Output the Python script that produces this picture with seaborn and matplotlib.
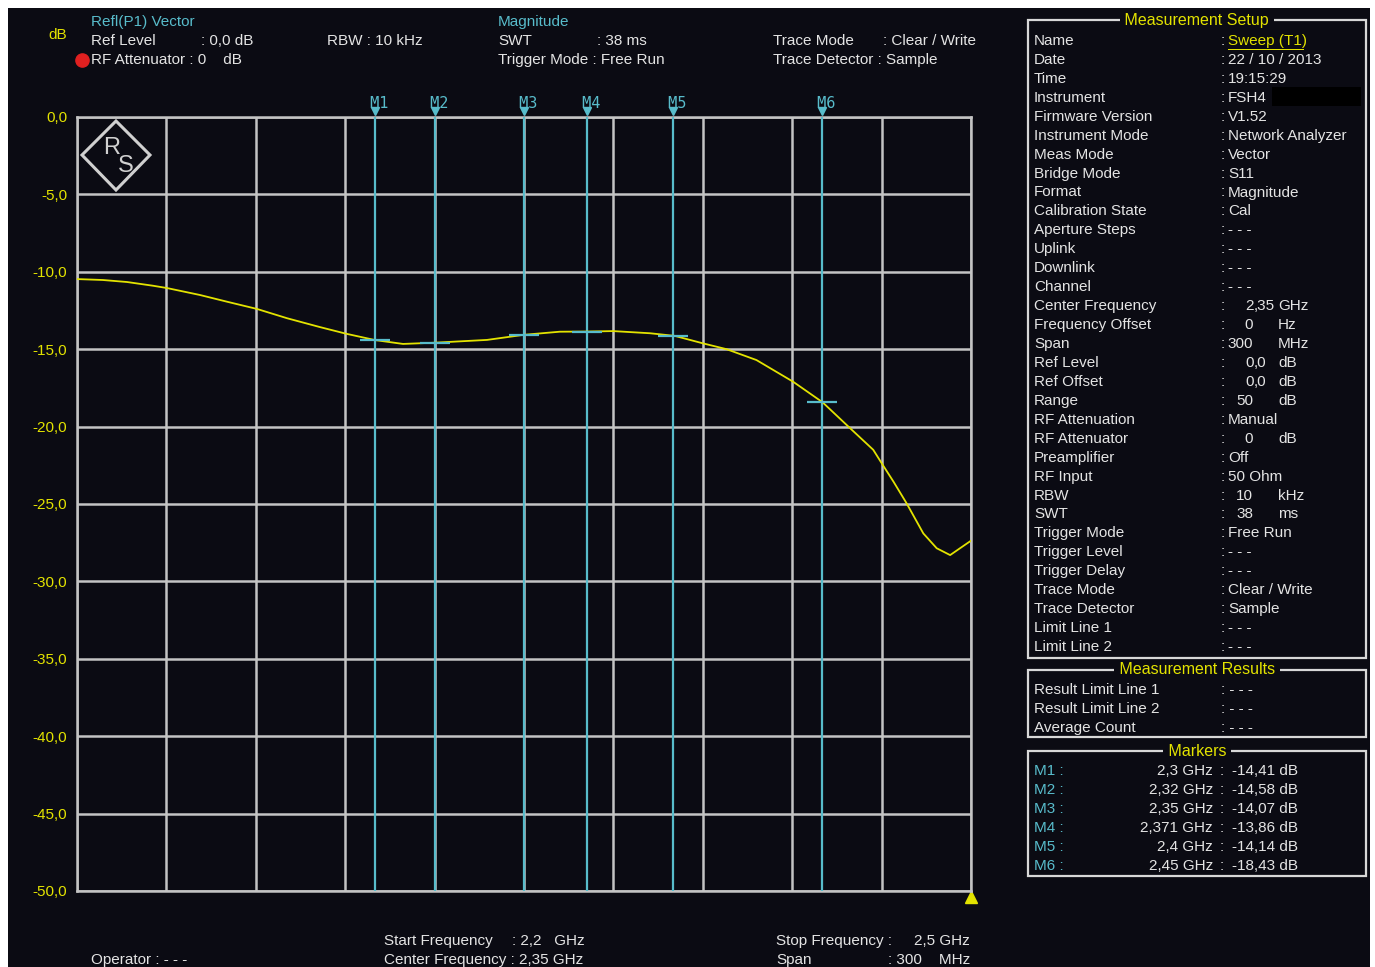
import numpy as np
import pandas as pd
import matplotlib
matplotlib.use("Agg")
import matplotlib.pyplot as plt
from matplotlib.patches import Rectangle, Polygon
from matplotlib.lines import Line2D
import seaborn as sns

# ---------------- data ----------------
freq_ghz = [2.2000, 2.2087, 2.2168, 2.2255, 2.2302, 2.2413, 2.2503, 2.2604, 2.2705, 2.2815,
            2.2903, 2.3000, 2.3094, 2.3200, 2.3376, 2.3500, 2.3620, 2.3711, 2.3799, 2.3923,
            2.4006, 2.4100, 2.4180, 2.4280, 2.4403, 2.4502, 2.4583, 2.4672, 2.4704, 2.4740,
            2.4784, 2.4840, 2.4885, 2.4930, 2.4963, 2.5000]
mag_db = [-10.47, -10.53, -10.66, -10.90, -11.05, -11.50, -11.93, -12.40, -13.00, -13.57,
          -14.00, -14.41, -14.66, -14.58, -14.40, -14.07, -13.87, -13.86, -13.83, -13.97,
          -14.14, -14.62, -15.00, -15.70, -17.10, -18.43, -19.90, -21.50, -22.48, -23.56,
          -24.96, -26.90, -27.86, -28.30, -27.86, -27.37]

marker_names = ["M1", "M2", "M3", "M4", "M5", "M6"]
marker_freq = [2.30, 2.32, 2.35, 2.371, 2.40, 2.45]
marker_db = [-14.41, -14.58, -14.07, -13.86, -14.14, -18.43]
marker_freq_lbl = ["2,3 GHz", "2,32 GHz", "2,35 GHz", "2,371 GHz", "2,4 GHz", "2,45 GHz"]
marker_db_lbl = ["-14,41 dB", "-14,58 dB", "-14,07 dB", "-13,86 dB", "-14,14 dB", "-18,43 dB"]

y_ticks = [0, -5, -10, -15, -20, -25, -30, -35, -40, -45, -50]
y_tick_labels = ["0,0", "-5,0", "-10,0", "-15,0", "-20,0", "-25,0", "-30,0",
                 "-35,0", "-40,0", "-45,0", "-50,0"]

setup_keys = ["Name", "Date", "Time", "Instrument", "Firmware Version", "Instrument Mode",
              "Meas Mode", "Bridge Mode", "Format", "Calibration State", "Aperture Steps",
              "Uplink", "Downlink", "Channel", "Center Frequency", "Frequency Offset",
              "Span", "Ref Level", "Ref Offset", "Range", "RF Attenuation", "RF Attenuator",
              "Preamplifier", "RF Input", "RBW", "SWT", "Trigger Mode", "Trigger Level",
              "Trigger Delay", "Trace Mode", "Trace Detector", "Limit Line 1", "Limit Line 2"]
setup_vals = ["Sweep (T1)", "22 / 10 / 2013", "19:15:29", "FSH4", "V1.52", "Network Analyzer",
              "Vector", "S11", "Magnitude", "Cal", "- - -", "- - -", "- - -", "- - -",
              ("2,35", "GHz"), ("0", "Hz"), ("300", "MHz"), ("0,0", "dB"), ("0,0", "dB"),
              ("50", "dB"), "Manual", ("0", "dB"), "Off", "50 Ohm", ("10", "kHz"),
              ("38", "ms"), "Free Run", "- - -", "- - -", "Clear / Write", "Sample",
              "- - -", "- - -"]
result_keys = ["Result Limit Line 1", "Result Limit Line 2", "Average Count"]
result_vals = ["- - -", "- - -", "- - -"]

# ---------------- style ----------------
W, H = 1375, 967
BG = "#0b0b13"
WHITE = "#e4e4e4"
CYAN = "#58bccb"
YEL = "#e3e300"
GRID = "#c4c4c4"

sns.set_style("dark", {"axes.facecolor": BG})
plt.rcParams["font.family"] = ["Liberation Sans", "DejaVu Sans"]

fig = plt.figure(figsize=(W / 100, H / 100), dpi=100, facecolor="white")


def fx(x):
    return x / W


def fy(y):
    return 1 - y / H


fig.add_artist(Rectangle((fx(8), 0), fx(1362), 1 - 8 / H, transform=fig.transFigure,
                         facecolor=BG, edgecolor="none", zorder=0))


def txt(x, y, s, color=WHITE, size=11, ha="left", **kw):
    fig.text(fx(x), fy(y + 1), s, color=color, fontsize=size, ha=ha, va="center", **kw)


# ---------------- main plot ----------------
ax = fig.add_axes([fx(77), fy(891), fx(971) - fx(77), fy(117) - fy(891)])
ax.set_facecolor(BG)
df = pd.DataFrame({"freq": freq_ghz, "mag": mag_db})
sns.lineplot(data=df, x="freq", y="mag", ax=ax, color=YEL, linewidth=1.3, zorder=5)
ax.set_xlim(2.2, 2.5)
ax.set_ylim(-50, 0)
ax.set_xticks(np.linspace(2.2, 2.5, 11))
ax.set_xticklabels([])
ax.set_yticks(y_ticks)
ax.set_yticklabels(y_tick_labels)
ax.tick_params(axis="y", colors=YEL, labelsize=11, length=0, pad=7)
ax.tick_params(axis="x", length=0)
ax.grid(True, color=GRID, linewidth=1.8)
for s in ax.spines.values():
    s.set_color(GRID)
    s.set_linewidth(1.8)
ax.set_xlabel("")
ax.set_ylabel("")

for name, f, d in zip(marker_names, marker_freq, marker_db):
    ax.axvline(f, color=CYAN, linewidth=1.6, zorder=3)
    ax.plot([f], [d], marker="_", markersize=21, markeredgewidth=1.6, color=CYAN, zorder=6)
    ax.plot([f], [1.008], marker="v", markersize=6, color=CYAN, clip_on=False,
            transform=ax.get_xaxis_transform(), zorder=6)
    ax.text(f, 1.018, " " + name, color=CYAN, fontsize=11, ha="center", va="center",
            family="DejaVu Sans Mono", transform=ax.get_xaxis_transform())

ax.plot([1.0], [-0.008], marker="^", markersize=9, color=YEL, clip_on=False,
        transform=ax.transAxes)

# R&S logo (decoration)
logo = Polygon([(fx(116), fy(121)), (fx(150), fy(155)), (fx(116), fy(190)), (fx(82), fy(155))],
               closed=True, fill=False, edgecolor="#d0d0d0", linewidth=2.2,
               transform=fig.transFigure)
fig.add_artist(logo)
txt(103, 147, "R", color="#d0d0d0", size=17)
txt(118, 165, "S", color="#d0d0d0", size=17)

# ---------------- header ----------------
txt(48, 34, "dB", color=YEL)
txt(91, 21, "Refl(P1) Vector", color=CYAN)
txt(91, 40, "Ref Level")
txt(201, 40, ": 0,0 dB")
fig.add_artist(Line2D([fx(82)], [fy(60)], marker="o", markersize=9.5, color="#e02020",
                      linestyle="none", transform=fig.transFigure))
txt(91, 59, "RF Attenuator : 0    dB")
txt(327, 40, "RBW : 10 kHz")
txt(498, 21, "Magnitude", color=CYAN)
txt(498, 40, "SWT")
txt(597, 40, ": 38 ms")
txt(498, 59, "Trigger Mode : Free Run")
txt(773, 40, "Trace Mode")
txt(883, 40, ": Clear / Write")
txt(773, 59, "Trace Detector : Sample")

# ---------------- footer ----------------
txt(91, 959, "Operator : - - -")
txt(384, 940, "Start Frequency")
txt(512, 940, ": 2,2   GHz")
txt(384, 959, "Center Frequency : 2,35 GHz")
txt(776, 940, "Stop Frequency :")
txt(970, 940, "2,5 GHz", ha="right")
txt(776, 959, "Span")
txt(970, 959, ": 300    MHz", ha="right")


# ---------------- right panel ----------------
def box(top, bottom, title):
    fig.add_artist(Rectangle((fx(1028), fy(bottom)), fx(1366) - fx(1028), fy(top) - fy(bottom),
                             transform=fig.transFigure, fill=False, edgecolor="#d8d8d8",
                             linewidth=1.6))
    fig.text(fx(1197), fy(top), " " + title + " ", color=YEL, fontsize=11.5, ha="center",
             va="center", bbox=dict(facecolor=BG, edgecolor="none", pad=0.5))


box(20, 658, "Measurement Setup")
box(670, 737, "Measurement Results")
box(751, 876, "Markers")

row_h = (646 - 40) / 32
for i, (k, v) in enumerate(zip(setup_keys, setup_vals)):
    y = 40 + i * row_h
    txt(1034, y, k)
    if isinstance(v, tuple):
        num, unit = v
        txt(1221, y, ":")
        txt(1253 if "," not in num else 1254, y, num.split(",")[0], ha="right")
        if "," in num:
            txt(1254, y, "," + num.split(",")[1])
        txt(1278, y, unit)
    else:
        col = YEL if i == 0 else WHITE
        txt(1221, y, ": ")
        txt(1228, y, v, color=col)
        if i == 0:
            fig.add_artist(Rectangle((fx(1228), fy(50)), fx(1304) - fx(1228), 1.2 / H,
                                     transform=fig.transFigure, facecolor=YEL,
                                     edgecolor="none"))
fig.add_artist(Rectangle((fx(1272), fy(106)), fx(1361) - fx(1272), 19 / H,
                         transform=fig.transFigure, facecolor="black", edgecolor="none"))

for i, (k, v) in enumerate(zip(result_keys, result_vals)):
    y = 689 + i * 19
    txt(1034, y, k)
    txt(1221, y, ": " + v)

for i, (n, fl, dl) in enumerate(zip(marker_names, marker_freq_lbl, marker_db_lbl)):
    y = 770 + i * 19
    txt(1034, y, n + " :", color=CYAN)
    txt(1213, y, fl, ha="right")
    txt(1220, y, ":")
    txt(1298, y, dl, ha="right")

fig.savefig("out.png", dpi=100, facecolor="white")
